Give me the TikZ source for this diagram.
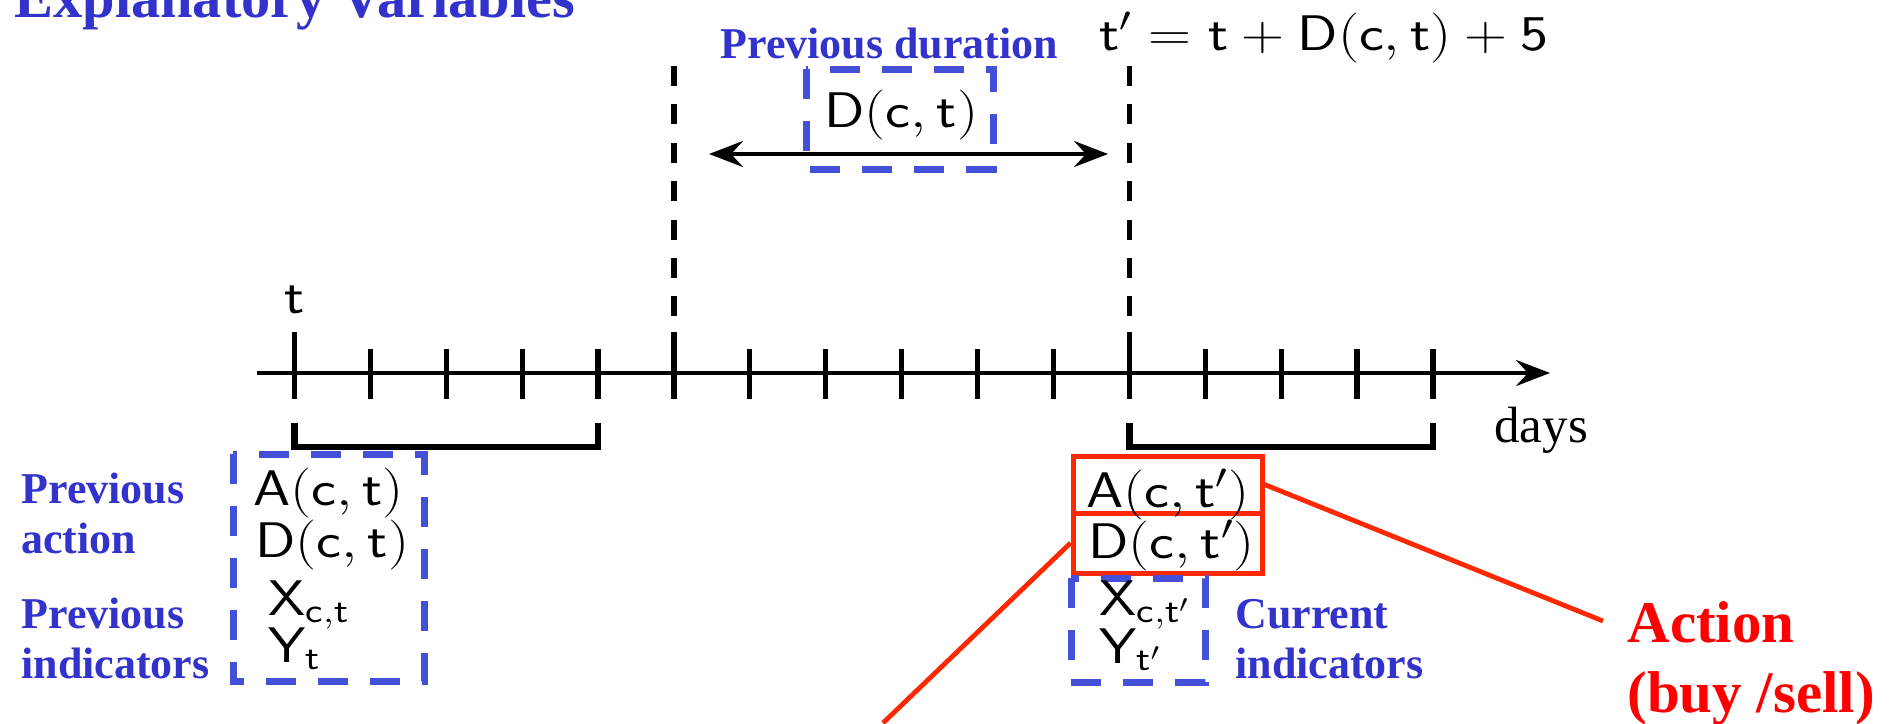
\RequirePackage{fix-cm}
\documentclass[tikz,border=0pt]{standalone}
\usepackage{fontspec}
\usepackage{graphicx}
\usetikzlibrary{arrows.meta}
\newfontfamily\tnr{Liberation Serif}
\definecolor{lblblue}{RGB}{51,51,204}
\definecolor{boxblue}{RGB}{68,80,216}
\definecolor{boxred}{RGB}{255,40,0}
\definecolor{txtred}{RGB}{255,0,0}
\newcommand{\mth}[1]{\scalebox{1.19}[1]{$#1$}}
\newcommand{\sm}[1]{\mathsf{#1}}
\begin{document}
\begin{tikzpicture}[x=0.5pt,y=-0.5pt,
  blbl/.style={font=\tnr\bfseries\fontsize{22pt}{25pt}\selectfont, text=lblblue, inner sep=0pt, anchor=base west},
  mlbl/.style={font=\fontsize{25pt}{30pt}\selectfont, inner sep=0pt, anchor=base west},
  bluebox/.style={draw=boxblue, line width=3.5pt, dash pattern=on 15pt off 11pt},
  redbox/.style={draw=boxred, line width=2.5pt, inner sep=0pt},
  redline/.style={draw=boxred, line width=2.4pt},
  vdash/.style={line width=2.7pt, dash pattern=on 10pt off 9.2pt},
  tickmark/.style={line width=2.6pt},
  bracketline/.style={line width=3.2pt},
  arr/.style={line width=2.2pt},
  headtip/.tip={Stealth[length=17pt,width=13pt,inset=6pt]}
]
\useasboundingbox (0,0) rectangle (1890,723);

% title
\node[blbl, font=\tnr\bfseries\fontsize{29.2pt}{33pt}\selectfont] (title) at (14,17) {Explanatory Variables};

% timeline axis
\coordinate (axstart) at (257,373);
\coordinate (axend) at (1550,373);
\draw[arr, -headtip] (axstart) -- (axend);
\foreach \k in {0,...,15}{
  \pgfmathsetmacro{\xx}{294.4+75.9*\k}
  \ifnum\k=0 \draw[tickmark] (\xx,332) -- (\xx,399);
  \else\ifnum\k=5 \draw[tickmark] (\xx,332) -- (\xx,399);
  \else\ifnum\k=11 \draw[tickmark] (\xx,332) -- (\xx,399);
  \else \draw[tickmark] (\xx,349) -- (\xx,399);
  \fi\fi\fi
}
% dashed verticals
\coordinate (vl) at (673.9,66);
\coordinate (vr) at (1129.3,66);
\draw[vdash] (vl) -- (673.9,318);
\draw[vdash] (vr) -- (1129.3,318);

% brackets
\draw[bracketline] (294.4,423) -- (294.4,447) -- (598,447) -- (598,423);
\draw[bracketline] (1129.3,423) -- (1129.3,447) -- (1432.9,447) -- (1432.9,423);

% duration arrow
\coordinate (durL) at (709,154);
\coordinate (durR) at (1108,154);
\draw[arr, headtip-headtip] (durL) -- (durR);
\draw[bluebox] (806,69) rectangle (993,169);
\node[mlbl] (dct) at (824,127) {\mth{\sm{D}(\sm{c},\sm{t})}};
\node[blbl] (prevdur) at (720,58) {Previous duration};

% equation
\node[mlbl] (teq) at (1099,50) {\mth{\sm{t}' = \sm{t} + \sm{D}(\sm{c},\sm{t}) + \sm{5}}};
\node[mlbl] (tlbl) at (284,313) {\mth{\sm{t}}};
\node[font=\tnr\fontsize{25.5pt}{28pt}\selectfont, inner sep=0pt, anchor=base west] (days) at (1494,442) {days};

% left box
\draw[bluebox] (233,454) rectangle (424,681);
\node[mlbl] (a1) at (253,505) {\mth{\sm{A}(\sm{c},\sm{t})}};
\node[mlbl] (d1) at (255,557) {\mth{\sm{D}(\sm{c},\sm{t})}};
\node[mlbl] (x1) at (268,615) {\mth{\sm{X}_{\sm{c},\sm{t}}}};
\node[mlbl] (y1) at (268,662) {\mth{\sm{Y}_{\sm{t}}}};
\node[blbl] (prevact) at (21,503) {\begin{tabular}[t]{@{}l@{}}Previous\\action\end{tabular}};
\node[blbl] (prevind) at (21,628) {\begin{tabular}[t]{@{}l@{}}Previous\\indicators\end{tabular}};

% right boxes
\node[redbox, minimum width=94.5pt, minimum height=28.5pt] (abox) at (1167.5,484.5) {};
\node[redbox, minimum width=94.5pt, minimum height=30pt] (dbox) at (1167.5,543) {};
\draw[bluebox] (1071,578) rectangle (1205,682);
\node[mlbl] (a2) at (1086,507) {\mth{\sm{A}(\sm{c},\sm{t}')}};
\node[mlbl] (d2) at (1088,558) {\mth{\sm{D}(\sm{c},\sm{t}')}};
\node[mlbl] (x2) at (1099,615) {\mth{\sm{X}_{\sm{c},\sm{t}'}}};
\node[mlbl] (y2) at (1099,663) {\mth{\sm{Y}_{\sm{t}'}}};
\node[blbl] (curind) at (1235,628) {\begin{tabular}[t]{@{}l@{}}Current\\indicators\end{tabular}};

% action label and red connectors
\node[font=\tnr\bfseries\fontsize{29.5pt}{35pt}\selectfont, text=txtred, inner sep=0pt, anchor=base west] (action) at (1627,642) {\begin{tabular}[t]{@{}l@{}}Action\\(buy /sell)\end{tabular}};
\coordinate (actpt) at (1603,621);
\coordinate (dend) at (883,723);
\draw[redline] (abox.east) -- (actpt);
\draw[redline] (dbox.west) -- (dend);
\end{tikzpicture}
\end{document}
